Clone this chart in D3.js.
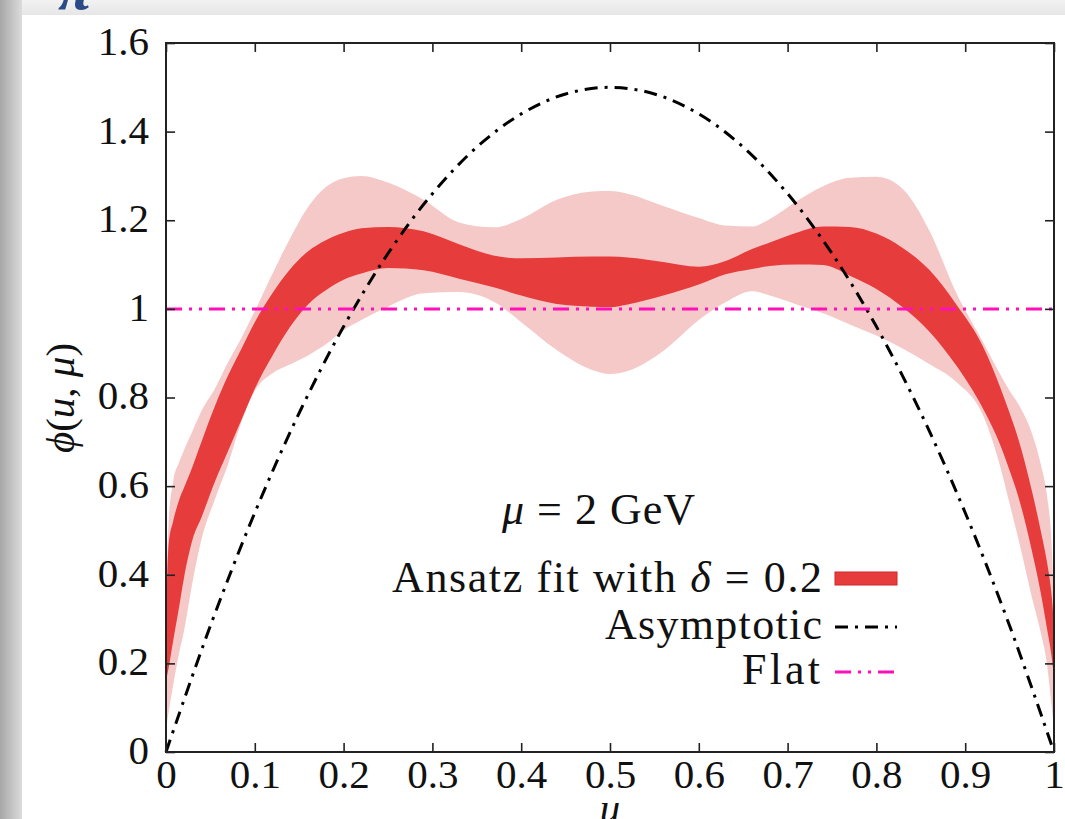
<!DOCTYPE html>
<html>
<head>
<meta charset="utf-8">
<script src="https://cdn.jsdelivr.net/npm/d3@7"></script>
<style>
  html, body { margin: 0; padding: 0; background: #fff; }
  svg { display: block; }
  text { font-family: "Liberation Serif", "DejaVu Serif", serif; fill: #111; }
</style>
</head>
<body>
<svg id="chart" width="1065" height="819"></svg>
<script>
/*
 * Pion distribution amplitude, band plot
 */

var bandU = [0, 0.003, 0.008, 0.015, 0.02, 0.03, 0.04, 0.055, 0.07, 0.085, 0.1, 0.12, 0.14, 0.16, 0.18, 0.2, 0.22, 0.25,
             0.29, 0.33, 0.37, 0.4, 0.44, 0.48, 0.5, 0.52, 0.56, 0.6, 0.63, 0.66, 0.68, 0.71, 0.74, 0.77, 0.8, 0.83,
             0.86, 0.89, 0.92, 0.94, 0.95, 0.96, 0.975, 0.985, 0.992, 0.997, 1];

// outer (light) band
var lightUpper = [0.35, 0.52, 0.61, 0.655, 0.68, 0.725, 0.77, 0.82, 0.88, 0.935, 0.995, 1.08, 1.16, 1.23, 1.275, 1.295, 1.300, 1.285,
                  1.246, 1.195, 1.184, 1.203, 1.246, 1.265, 1.266, 1.260, 1.232, 1.205, 1.188, 1.186, 1.203, 1.243, 1.277, 1.296, 1.298, 1.270,
                  1.175, 1.036, 0.925, 0.85, 0.815, 0.785, 0.72, 0.65, 0.58, 0.48, 0.34];
var lightLower = [0.05, 0.09, 0.15, 0.225, 0.27, 0.385, 0.48, 0.57, 0.65, 0.745, 0.815, 0.855, 0.875, 0.895, 0.92, 0.952, 0.975, 1.005,
                  1.035, 1.038, 1.015, 0.97, 0.907, 0.862, 0.853, 0.86, 0.905, 0.975, 1.015, 1.04, 1.03, 1.01, 0.99, 0.965, 0.94, 0.91,
                  0.875, 0.835, 0.76, 0.64, 0.56, 0.48, 0.35, 0.27, 0.2, 0.11, 0.05];

// inner (dark) band
var darkUpper = [0.30, 0.47, 0.52, 0.57, 0.595, 0.645, 0.70, 0.78, 0.85, 0.91, 0.97, 1.036, 1.09, 1.13, 1.155, 1.172, 1.182, 1.185,
                 1.175, 1.146, 1.120, 1.114, 1.116, 1.118, 1.118, 1.116, 1.106, 1.095, 1.108, 1.135, 1.15, 1.172, 1.186, 1.185, 1.170, 1.137,
                 1.087, 1.010, 0.915, 0.82, 0.765, 0.705, 0.59, 0.50, 0.43, 0.36, 0.29];
var darkLower = [0.16, 0.19, 0.25, 0.33, 0.39, 0.48, 0.53, 0.61, 0.68, 0.75, 0.82, 0.895, 0.96, 1.01, 1.042, 1.066, 1.08, 1.092,
                 1.087, 1.068, 1.048, 1.03, 1.011, 1.005, 1.004, 1.01, 1.03, 1.055, 1.078, 1.09, 1.097, 1.10, 1.099, 1.075, 1.045, 1.003,
                 0.948, 0.872, 0.775, 0.69, 0.635, 0.575, 0.455, 0.36, 0.28, 0.22, 0.17];

// asymptotic curve
var asymU = [0, 0.05, 0.1, 0.15, 0.2, 0.25, 0.3, 0.35, 0.4, 0.45, 0.5, 0.55, 0.6, 0.65, 0.7, 0.75, 0.8, 0.85, 0.9, 0.95, 1];
var asymPhi = [0, 0.285, 0.54, 0.765, 0.96, 1.125, 1.26, 1.365, 1.44, 1.485, 1.5, 1.485, 1.44, 1.365, 1.26, 1.125, 0.96, 0.765, 0.54, 0.285, 0];

// flat curve
var flatU = [0, 1];
var flatPhi = [1, 1];

// ticks
var xTicks = [0, 0.1, 0.2, 0.3, 0.4, 0.5, 0.6, 0.7, 0.8, 0.9, 1];
var xTickLabels = ["0", "0.1", "0.2", "0.3", "0.4", "0.5", "0.6", "0.7", "0.8", "0.9", "1"];
var yTicks = [0, 0.2, 0.4, 0.6, 0.8, 1, 1.2, 1.4, 1.6];
var yTickLabels = ["0", "0.2", "0.4", "0.6", "0.8", "1", "1.2", "1.4", "1.6"];

var colors = {
  light: "#f6c9c9",
  dark: "#e63c3c",
  asym: "#000",
  flat: "#ff10b8",
  frame: "#222"
};

var svg = d3.select("#chart");

// slide background: gray strip left and top, white panel
var defs = svg.append("defs");
var lg = defs.append("linearGradient").attr("id", "leftShade").attr("x1", 0).attr("x2", 1).attr("y1", 0).attr("y2", 0);
lg.append("stop").attr("offset", 0).attr("stop-color", "#a6a6a6");
lg.append("stop").attr("offset", 1).attr("stop-color", "#dcdcdc");
var tg = defs.append("linearGradient").attr("id", "topShade").attr("x1", 0).attr("x2", 0).attr("y1", 0).attr("y2", 1);
tg.append("stop").attr("offset", 0).attr("stop-color", "#f2f2f2");
tg.append("stop").attr("offset", 1).attr("stop-color", "#e6e6e6");

svg.append("rect").attr("x", 0).attr("y", 0).attr("width", 1065).attr("height", 15).style("fill", "url(#topShade)");
svg.append("rect").attr("x", 0).attr("y", 0).attr("width", 22).attr("height", 819).style("fill", "url(#leftShade)");
svg.append("rect").attr("x", 22).attr("y", 15).attr("width", 1043).attr("height", 804).style("fill", "#fff");

// cut-off title glyph at the very top
svg.append("text").attr("x", 58).attr("y", 9)
  .style("font-size", "62px").style("font-style", "italic").style("font-weight", "bold")
  .style("fill", "#2b4a86").text("π");

var x = d3.scaleLinear().domain([0, 1]).range([166, 1054]);
var y = d3.scaleLinear().domain([0, 1.6]).range([752, 43]);

var band = function(lo, hi){
  return d3.area()
    .x(function(d, i){ return x(bandU[i]); })
    .y0(function(d, i){ return y(lo[i]); })
    .y1(function(d, i){ return y(hi[i]); })
    .curve(d3.curveMonotoneX);
};

var plot = svg.append("g");
plot.append("path").attr("d", band(lightLower, lightUpper)(bandU)).style("fill", colors.light);
plot.append("path").attr("d", band(darkLower, darkUpper)(bandU)).style("fill", colors.dark);

// asymptotic
var asymLine = d3.line()
  .x(function(d, i){ return x(asymU[i]); })
  .y(function(d, i){ return y(asymPhi[i]); })
  .curve(d3.curveCatmullRom);
plot.append("path").attr("d", asymLine(asymU))
  .style("fill", "none").style("stroke", colors.asym).style("stroke-width", 3)
  .style("stroke-dasharray", "13,7,3,7");

// flat
var flatLine = d3.line()
  .x(function(d, i){ return x(flatU[i]); })
  .y(function(d, i){ return y(flatPhi[i]); });
plot.append("path").attr("d", flatLine(flatU))
  .style("fill", "none").style("stroke", colors.flat).style("stroke-width", 3)
  .style("stroke-dasharray", "16,7,3,7,3,7");

// axes: inward ticks on all four sides
var fmtX = function(d){ return xTickLabels[xTicks.indexOf(d)]; };
var fmtY = function(d){ return yTickLabels[yTicks.indexOf(d)]; };

var axB = svg.append("g").attr("transform", "translate(0,752)")
  .call(d3.axisBottom(x).tickValues(xTicks).tickFormat(fmtX).tickSize(-9).tickPadding(7));
var axL = svg.append("g").attr("transform", "translate(166,0)")
  .call(d3.axisLeft(y).tickValues(yTicks).tickFormat(fmtY).tickSize(-9).tickPadding(17));
var axT = svg.append("g").attr("transform", "translate(0,43)")
  .call(d3.axisTop(x).tickValues(xTicks).tickFormat("").tickSize(-9));
var axR = svg.append("g").attr("transform", "translate(1054,0)")
  .call(d3.axisRight(y).tickValues(yTicks).tickFormat("").tickSize(-9));

[axB, axL, axT, axR].forEach(function(a){
  a.select(".domain").remove();
  a.selectAll(".tick line").style("stroke", colors.frame).style("stroke-width", 1.6);
  a.selectAll(".tick text").style("font-family", "'Liberation Serif', serif").style("font-size", "41px").style("fill", "#111");
});
axL.selectAll(".tick text").attr("dy", "0.28em");

// frame
svg.append("rect").attr("x", x(0)).attr("y", y(1.6))
  .attr("width", x(1) - x(0)).attr("height", y(0) - y(1.6))
  .style("fill", "none").style("stroke", colors.frame).style("stroke-width", 2);

// axis titles
var yl = svg.append("text").attr("transform", "translate(74,398) rotate(-90)")
  .attr("text-anchor", "middle").style("font-size", "41px");
yl.append("tspan").style("font-style", "italic").text("ϕ");
yl.append("tspan").text("(");
yl.append("tspan").style("font-style", "italic").text("u");
yl.append("tspan").text(", ");
yl.append("tspan").style("font-style", "italic").text("μ");
yl.append("tspan").text(")");

svg.append("text").attr("x", 610).attr("y", 822).attr("text-anchor", "middle")
  .style("font-size", "41px").style("font-style", "italic").text("u");

// legend
var mu = svg.append("text").attr("x", 502).attr("y", 524)
  .attr("textLength", 193).attr("lengthAdjust", "spacing").style("font-size", "44px");
mu.append("tspan").style("font-style", "italic").text("μ");
mu.append("tspan").text(" = 2 GeV");

var leg1 = svg.append("text").attr("x", 392).attr("y", 592)
  .attr("textLength", 430).attr("lengthAdjust", "spacing").style("font-size", "44px");
leg1.append("tspan").text("Ansatz fit with ");
leg1.append("tspan").style("font-style", "italic").text("δ");
leg1.append("tspan").text(" = 0.2");

svg.append("text").attr("x", 605).attr("y", 639)
  .attr("textLength", 217).attr("lengthAdjust", "spacing").style("font-size", "44px").text("Asymptotic");
svg.append("text").attr("x", 742).attr("y", 684)
  .attr("textLength", 78).attr("lengthAdjust", "spacing").style("font-size", "44px").text("Flat");

svg.append("rect").attr("x", 835).attr("y", 572).attr("width", 62).attr("height", 13)
  .style("fill", colors.dark).style("stroke", "#d02828").style("stroke-width", 1);
svg.append("line").attr("x1", 835).attr("x2", 897).attr("y1", 627).attr("y2", 627)
  .style("stroke", colors.asym).style("stroke-width", 3).style("stroke-dasharray", "13,7,3,7");
svg.append("line").attr("x1", 835).attr("x2", 897).attr("y1", 672).attr("y2", 672)
  .style("stroke", colors.flat).style("stroke-width", 3).style("stroke-dasharray", "16,7,3,7,3,7");
</script>
</body>
</html>
